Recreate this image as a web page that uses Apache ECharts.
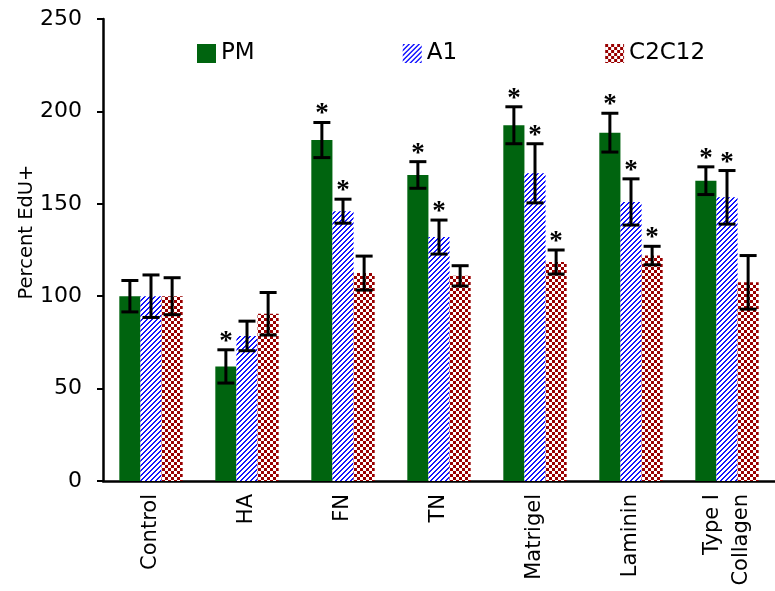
<!DOCTYPE html>
<html>
<head>
<meta charset="utf-8">
<script src="https://cdn.jsdelivr.net/npm/echarts@6/dist/echarts.min.js"></script>
<style>
  html, body { margin: 0; padding: 0; background: #fff; }
  #chart { width: 775px; height: 591px; }
</style>
</head>
<body>
<div id="chart"></div>
<script>
// values
const categories = ['Control', 'HA', 'FN', 'TN', 'Matrigel', 'Laminin', 'Type I\nCollagen'];
const pm    = [100, 62, 184.5, 165.6, 192.5, 188.5, 162.5];
const pmErr = [8.5, 9, 9.5, 7.2, 10, 10.5, 7.5];
const pmSig = [0, 1, 1, 1, 1, 1, 1];
const a1    = [100, 78.5, 146, 132, 166.5, 151, 153.5];
const a1Err = [11.5, 8, 6.5, 9.2, 16, 12.5, 14.5];
const a1Sig = [0, 0, 1, 1, 1, 1, 1];
const c2    = [100, 90.5, 112.5, 111, 118.5, 122, 107.5];
const c2Err = [10, 11.5, 9.2, 5.5, 6.5, 5, 14.5];
const c2Sig = [0, 0, 0, 0, 1, 1, 0];
const yTicks = [0, 50, 100, 150, 200, 250];

// fill patterns
function makeStripes() {
  const c = document.createElement('canvas');
  c.width = 5; c.height = 5;
  const ctx = c.getContext('2d');
  const img = ctx.createImageData(5, 5);
  for (let y = 0; y < 5; y++) {
    for (let x = 0; x < 5; x++) {
      const i = (y * 5 + x) * 4;
      const on = (x + y) % 5 < 2;
      img.data[i] = on ? 20 : 255;
      img.data[i + 1] = on ? 20 : 255;
      img.data[i + 2] = 255;
      img.data[i + 3] = 255;
    }
  }
  ctx.putImageData(img, 0, 0);
  return c;
}
function makeChecker() {
  const c = document.createElement('canvas');
  c.width = 6; c.height = 6;
  const ctx = c.getContext('2d');
  ctx.fillStyle = '#ffffff';
  ctx.fillRect(0, 0, 6, 6);
  ctx.fillStyle = '#990000';
  ctx.fillRect(0, 0, 3, 3);
  ctx.fillRect(3, 3, 3, 3);
  return c;
}

const green = '#00640f';
const stripeFill = { image: makeStripes(), repeat: 'repeat' };
const checkFill = { image: makeChecker(), repeat: 'repeat' };
const font = 'DejaVu Sans';

const BAR_FRAC = 0.22;

function errSeries(vals, errs, sig, offset) {
  return {
    type: 'custom',
    silent: true,
    z: 10,
    encode: { x: 0, y: 1 },
    data: vals.map((v, i) => [i, v, errs[i], sig[i]]),
    renderItem: function (params, api) {
      const idx = api.value(0);
      const v = api.value(1);
      const e = api.value(2);
      const catW = api.size([1, 0])[0];
      const x = api.coord([idx, v])[0] + offset * catW * BAR_FRAC;
      const top = api.coord([idx, v + e])[1];
      const bot = api.coord([idx, v - e])[1];
      const cap = 8.5;
      const st = { stroke: '#000', lineWidth: 3 };
      const kids = [
        { type: 'line', shape: { x1: x, y1: top, x2: x, y2: bot }, style: st },
        { type: 'line', shape: { x1: x - cap, y1: top, x2: x + cap, y2: top }, style: st },
        { type: 'line', shape: { x1: x - cap, y1: bot, x2: x + cap, y2: bot }, style: st }
      ];
      if (api.value(3)) {
        kids.push({
          type: 'text',
          style: {
            text: '*', x: x, y: top - 8,
            align: 'center', verticalAlign: 'middle',
            font: 'bold 27px "Liberation Serif"', fill: '#000'
          }
        });
      }
      return { type: 'group', children: kids };
    }
  };
}

const chart = echarts.init(document.getElementById('chart'));
chart.setOption({
  animation: false,
  backgroundColor: '#fff',
  textStyle: { fontFamily: font, color: '#000' },
  grid: { left: 103, top: 19, bottom: 110, right: -8 },
  legend: {
    left: 192, top: 37,
    icon: 'rect',
    itemWidth: 19, itemHeight: 19, itemGap: 148,
    textStyle: { fontSize: 23, color: '#000', fontFamily: font },
    data: ['PM', 'A1', 'C2C12']
  },
  xAxis: {
    type: 'category',
    data: categories,
    axisLine: { lineStyle: { color: '#000', width: 2.5 } },
    axisTick: { length: 6, lineStyle: { color: '#000', width: 2 } },
    axisLabel: { rotate: 90, fontSize: 21, color: '#000', margin: 13, lineHeight: 29, fontFamily: font }
  },
  yAxis: {
    type: 'value',
    min: yTicks[0], max: yTicks[yTicks.length - 1], interval: 50,
    name: 'Percent EdU+', nameLocation: 'middle', nameGap: 66,
    nameMoveOverlap: false,
    nameTextStyle: { fontSize: 19.5, color: '#000', fontFamily: font, padding: [0, 0, 0, 36] },
    splitLine: { show: false },
    axisLine: { show: true, lineStyle: { color: '#000', width: 2.5 } },
    axisTick: { show: true, length: 6, lineStyle: { color: '#000', width: 2 } },
    axisLabel: { fontSize: 22, color: '#000', margin: 21, fontFamily: font }
  },
  series: [
    { name: 'PM', type: 'bar', data: pm, barWidth: '22%', barGap: '0%', itemStyle: { color: green } },
    { name: 'A1', type: 'bar', data: a1, barWidth: '22%', barGap: '0%', itemStyle: { color: stripeFill } },
    { name: 'C2C12', type: 'bar', data: c2, barWidth: '22%', barGap: '0%', itemStyle: { color: checkFill } },
    errSeries(pm, pmErr, pmSig, -1),
    errSeries(a1, a1Err, a1Sig, 0),
    errSeries(c2, c2Err, c2Sig, 1)
  ]
});
</script>
</body>
</html>
